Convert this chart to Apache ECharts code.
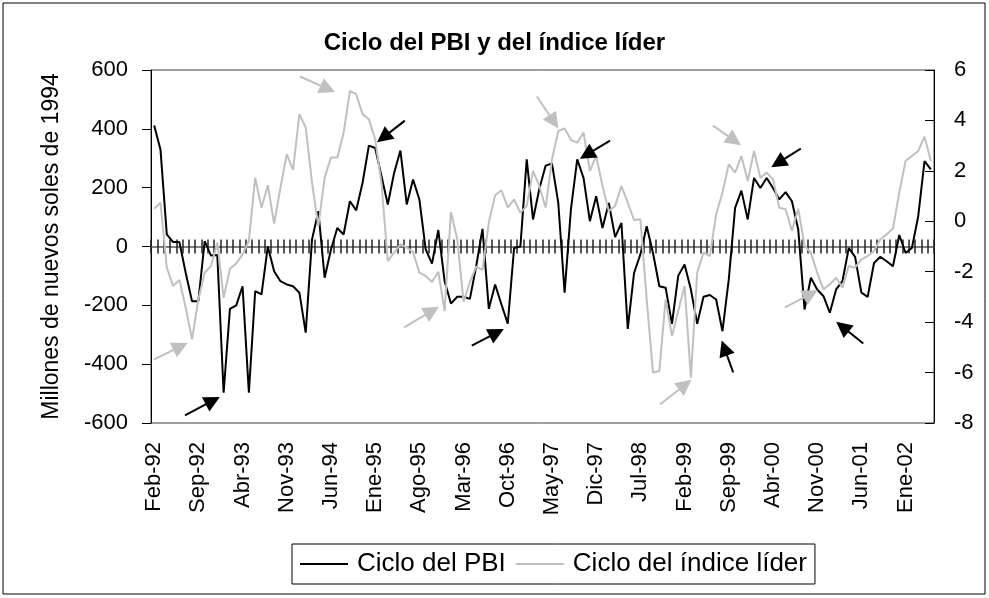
<!DOCTYPE html>
<html>
<head>
<meta charset="utf-8">
<script src="https://cdn.jsdelivr.net/npm/echarts@6/dist/echarts.min.js"></script>
<style>
  html, body { margin: 0; padding: 0; background: #fff; }
  #ciclo_chart { width: 989px; height: 598px; }
</style>
</head>
<body>
<div id="ciclo_chart"></div>
<script>
// meses en castellano, la serie empieza en Feb-92
const monthNames = ['Ene', 'Feb', 'Mar', 'Abr', 'May', 'Jun', 'Jul', 'Ago', 'Sep', 'Oct', 'Nov', 'Dic']

// Ciclo del PBI (millones de nuevos soles de 1994), eje izquierdo
const cicloPBI = [
  411, 330, 41, 15, 15, -90, -186, -186, 18, -31, -29, -497,
  -212, -200, -135, -497, -152, -163, 0, -84, -118, -129, -135, -157,
  -293, 24, 120, -106, -10, 63, 41, 154, 123, 216, 343, 335,
  239, 143, 250, 326, 143, 228, 160, -10, -58, 56, -118, -194,
  -171, -171, -178, -67, 60, -212, -129, -197, -262, -5, 0, 296,
  92, 196, 275, 282, 148, -157, 126, 296, 233, 86, 171, 63,
  148, 32, 80, -280, -90, -27, 69, -22, -135, -140, -263, -99,
  -61, -146, -263, -171, -165, -180, -288, -112, 131, 190, 92, 233,
  199, 233, 199, 160, 185, 154, 58, -214, -106, -146, -169, -225,
  -146, -118, -5, -35, -157, -171, -56, -35, -50, -67, 39, -22,
  -5, 103, 290, 262
]

// Ciclo del índice líder, eje derecho
const cicloLider = [
  0.50, 0.74, -1.84, -2.57, -2.33, -3.43, -4.68, -3.10, -2.04, -1.77, -0.85, -3.03,
  -1.88, -1.67, -1.31, -0.78, 1.73, 0.54, 1.43, -0.09, 1.34, 2.66, 2.04, 4.25,
  3.72, 1.53, -0.19, 1.73, 2.53, 2.53, 3.5, 5.17, 5.04, 4.25, 4.05, 3.25,
  1.5, -1.57, -1.24, -0.91, -1.04, -1.22, -2.04, -2.17, -2.41, -2.0, -3.56, 0.37,
  -0.71, -3.2, -2.41, -1.8, -1.93, -0.05, 1.03, 1.23, 0.54, 0.87, 0.34, 0.61,
  2.0, 1.4, 0.54, 2.46, 3.58, 3.68, 3.23, 3.12, 3.52, 2.0, 2.59, 1.4,
  0.41, 0.61, 1.4, 0.74, 0.05, 0.08, -3.1, -6.0, -5.94, -3.1, -4.55, -3.56,
  -2.57, -6.2, -2.04, -1.24, -1.38, 0.28, 1.14, 2.26, 1.93, 2.59, 1.6, 2.79,
  1.73, 1.93, 1.67, 0.54, 0.48, -0.38, 0.5, -0.98, -1.24, -2.04, -2.7, -2.5,
  -2.24, -2.63, -1.77, -1.84, -1.51, -1.38, -1.18, -0.71, -0.52, -0.29, 1.14, 2.39,
  2.59, 2.79, 3.36, 2.39
]

// flechas de anotación: [mes desde, valor desde, mes hasta, valor hasta] (eje izquierdo)
const flechasPBI = [
  [4.88, -574, 9.28, -524],
  [39.7, 428, 36.3, 371],
  [50.3, -337, 54.25, -293],
  [72.2, 360, 68.5, 312],
  [91.7, -428, 90.3, -345],
  [102.4, 333, 98.8, 284],
  [112.3, -330, 109.0, -273]
]
const flechasLider = [
  [23.1, 578, 27.5, 536],
  [0, -384, 4.18, -340],
  [39.6, -275, 44.0, -219],
  [60.6, 510, 63.3, 424],
  [80.1, -537, 84.1, -470],
  [88.5, 411, 91.9, 360],
  [99.9, -207, 104.0, -161]
]

const categories = cicloPBI.map((v, i) => {
  const m = (1 + i) % 12
  const y = (92 + Math.floor((1 + i) / 12)) % 100
  return monthNames[m] + '-' + String(y).padStart(2, '0')
})

const font = "'Liberation Sans', Arial, sans-serif"

let myChart = echarts.init(document.getElementById('ciclo_chart'))

let toLines = (list) => list.map(a => ({ coords: [[a[0], a[1]], [a[2], a[3]]] }))

let option = {
  animation: false,
  backgroundColor: '#fff',
  textStyle: { fontFamily: font },
  graphic: [{
    type: 'rect',
    shape: { x: 3, y: 3, width: 982, height: 591 },
    style: { fill: 'none', stroke: '#000', lineWidth: 1 },
    silent: true
  }],
  title: {
    text: 'Ciclo del PBI y del índice líder',
    left: 'center',
    top: 26,
    textStyle: { fontFamily: font, fontSize: 24, fontWeight: 'bold', color: '#000' }
  },
  legend: {
    data: ['Ciclo del PBI', 'Ciclo del índice líder'],
    icon: 'rect',
    left: 292,
    top: 544,
    padding: [7, 8, 7, 8],
    borderColor: '#000',
    borderWidth: 1,
    itemWidth: 48,
    itemHeight: 2,
    itemGap: 10,
    textStyle: { fontFamily: font, fontSize: 26, color: '#000', padding: [0, 0, 0, 4] }
  },
  grid: {
    left: 151,
    right: 55,
    top: 70,
    bottom: 175,
    show: true,
    borderColor: '#404040',
    borderWidth: 1
  },
  xAxis: [{
    type: 'category',
    data: categories,
    position: 'bottom',
    axisLine: { show: false, onZero: false },
    axisTick: { show: false },
    axisLabel: {
      interval: 6,
      rotate: 90,
      margin: 19,
      fontFamily: font,
      fontSize: 22,
      color: '#000'
    }
  }, {
    type: 'category',
    data: categories,
    position: 'bottom',
    axisLine: { show: true, onZero: true, onZeroAxisIndex: 0, lineStyle: { color: '#808080', width: 2 } },
    axisTick: { show: true, interval: 0, length: 7, lineStyle: { color: '#222', width: 1.5 } },
    axisLabel: { show: false }
  }, {
    type: 'category',
    data: categories,
    position: 'top',
    axisLine: { show: false, onZero: true, onZeroAxisIndex: 0 },
    axisTick: { show: true, interval: 0, length: 7, lineStyle: { color: '#222', width: 1.5 } },
    axisLabel: { show: false }
  }, {
    type: 'value',
    min: -0.5,
    max: categories.length - 0.5,
    show: false
  }],
  yAxis: [{
    type: 'value',
    min: -600,
    max: 600,
    interval: 200,
    position: 'left',
    name: 'Millones de nuevos soles de 1994',
    nameLocation: 'middle',
    nameGap: 88,
    nameTextStyle: { fontFamily: font, fontSize: 23, color: '#000' },
    axisLine: { show: true, onZero: false, lineStyle: { color: '#000', width: 1 } },
    axisTick: { show: true, inside: false, length: 9, lineStyle: { color: '#000' } },
    axisLabel: { margin: 23, fontFamily: font, fontSize: 22, color: '#000' },
    splitLine: { show: false }
  }, {
    type: 'value',
    min: -8,
    max: 6,
    interval: 2,
    position: 'right',
    axisLine: { show: true, onZero: false, lineStyle: { color: '#000', width: 1 } },
    axisTick: { show: true, inside: true, length: 9, lineStyle: { color: '#000' } },
    axisLabel: { margin: 20, fontFamily: font, fontSize: 22, color: '#000' },
    splitLine: { show: false }
  }],
  series: [{
    name: 'Ciclo del PBI',
    type: 'line',
    xAxisIndex: 0,
    yAxisIndex: 0,
    data: cicloPBI,
    symbol: 'none',
    lineStyle: { color: '#000', width: 2 },
    itemStyle: { color: '#000' },
    z: 3
  }, {
    name: 'Ciclo del índice líder',
    type: 'line',
    xAxisIndex: 0,
    yAxisIndex: 1,
    data: cicloLider,
    symbol: 'none',
    lineStyle: { color: '#c0c0c0', width: 2 },
    itemStyle: { color: '#c0c0c0' },
    z: 4
  }, {
    name: 'flechas PBI',
    type: 'lines',
    coordinateSystem: 'cartesian2d',
    xAxisIndex: 3,
    yAxisIndex: 0,
    symbol: ['none', 'triangle'],
    symbolSize: 16,
    lineStyle: { color: '#000', width: 2, opacity: 1, curveness: 0 },
    data: toLines(flechasPBI),
    silent: true,
    z: 5
  }, {
    name: 'flechas líder',
    type: 'lines',
    coordinateSystem: 'cartesian2d',
    xAxisIndex: 3,
    yAxisIndex: 0,
    symbol: ['none', 'triangle'],
    symbolSize: 16,
    lineStyle: { color: '#c0c0c0', width: 2, opacity: 1, curveness: 0 },
    data: toLines(flechasLider),
    silent: true,
    z: 5
  }]
}

myChart.setOption(option)
</script>
</body>
</html>
